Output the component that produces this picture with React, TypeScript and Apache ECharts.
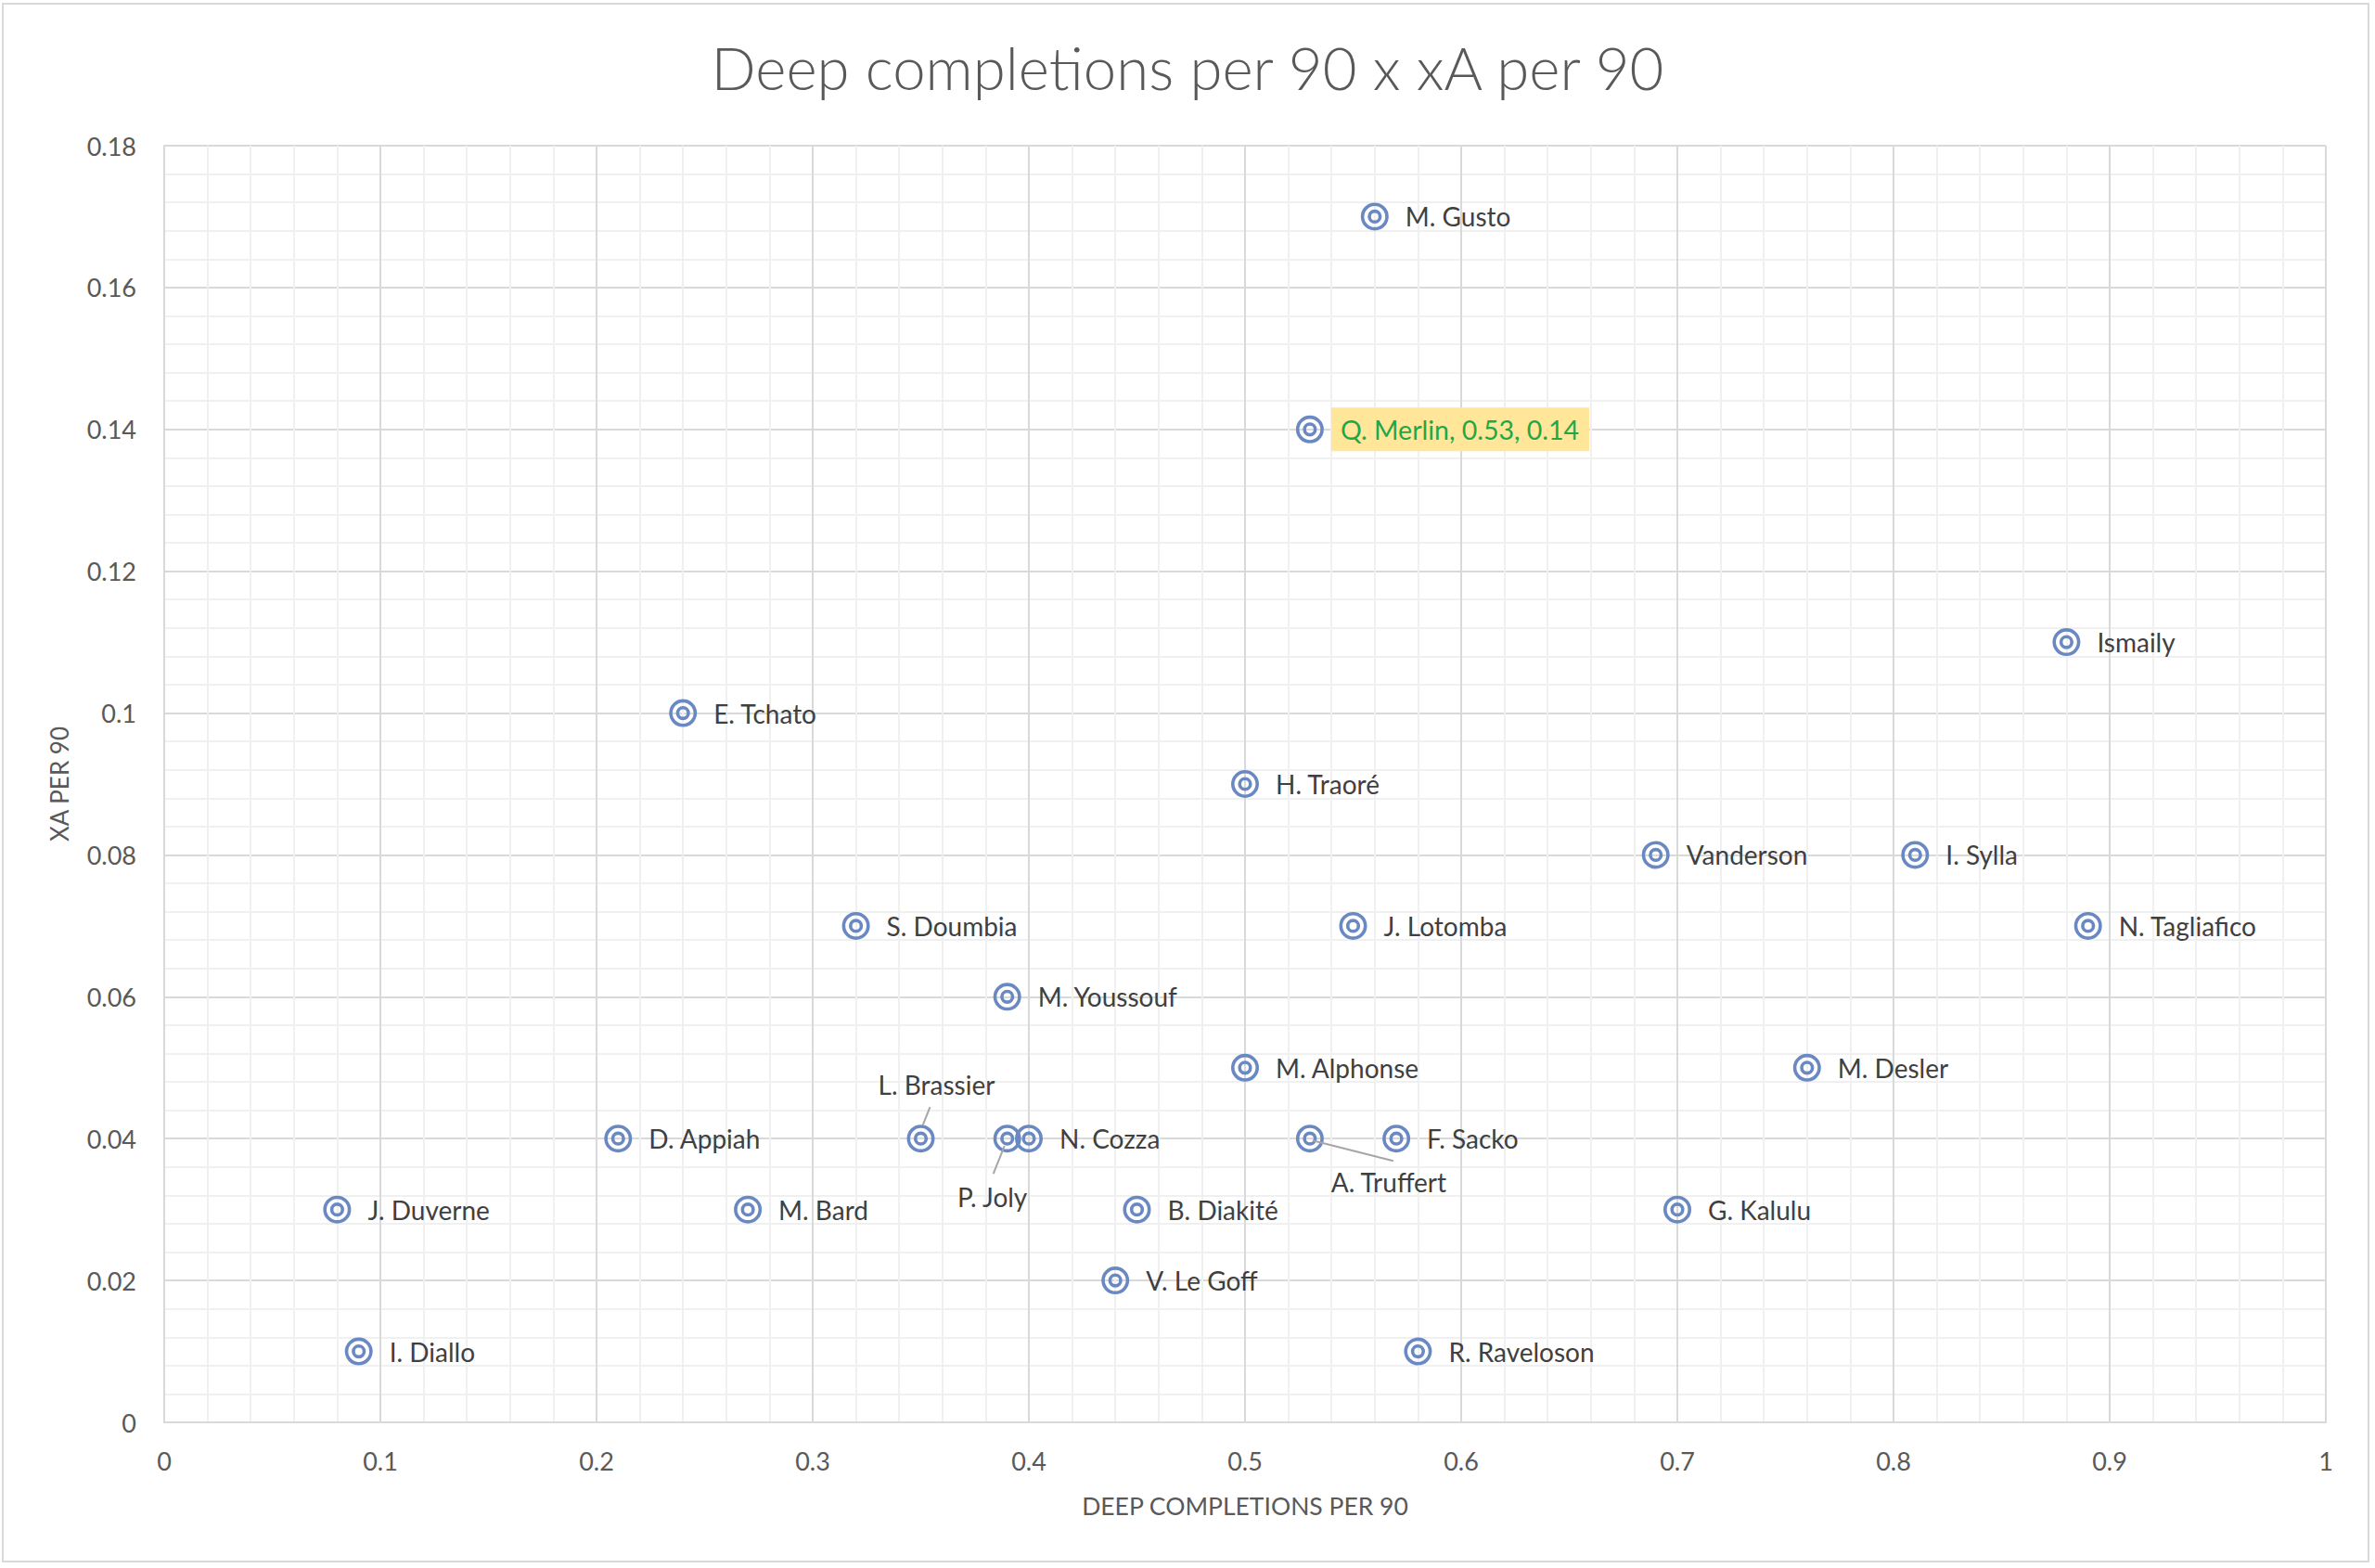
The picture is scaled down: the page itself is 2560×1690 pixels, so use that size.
import React, { useEffect, useRef } from "react";
import * as echarts from "echarts";

const players = [
  "M. Gusto", "Q. Merlin", "Ismaily", "E. Tchato", "H. Traoré", "Vanderson", "I. Sylla",
  "S. Doumbia", "J. Lotomba", "N. Tagliafico", "M. Youssouf", "M. Alphonse", "M. Desler",
  "D. Appiah", "L. Brassier", "P. Joly", "N. Cozza", "A. Truffert", "F. Sacko",
  "J. Duverne", "M. Bard", "B. Diakité", "G. Kalulu", "V. Le Goff", "I. Diallo", "R. Raveloson",
];
const deepCompletions = [
  0.56, 0.53, 0.88, 0.24, 0.5, 0.69, 0.81,
  0.32, 0.55, 0.89, 0.39, 0.5, 0.76,
  0.21, 0.35, 0.39, 0.4, 0.53, 0.57,
  0.08, 0.27, 0.45, 0.7, 0.44, 0.09, 0.58,
];
const xaPer90 = [
  0.17, 0.14, 0.11, 0.1, 0.09, 0.08, 0.08,
  0.07, 0.07, 0.07, 0.06, 0.05, 0.05,
  0.04, 0.04, 0.04, 0.04, 0.04, 0.04,
  0.03, 0.03, 0.03, 0.03, 0.02, 0.01, 0.01,
];
const highlighted = "Q. Merlin";
// labels moved away from their markers: [label dx, label dy, line start dx, dy, line end dx, dy] (pixels)
const movedLabels: Record<string, number[]> = {
  "L. Brassier": [17, -58, 2, -14, 10, -34],
  "P. Joly": [-16, 63, -3, 8, -15, 38],
  "A. Truffert": [85, 47, 3, 2, 90, 24],
};
const movedNames = Object.keys(movedLabels);

const FONT = "Lato, 'Open Sans', sans-serif";
const MARKER =
  "path://M0,15 A15,15 0 1,1 30,15 A15,15 0 1,1 0,15 Z M3.6,15 A11.4,11.4 0 1,0 26.4,15 A11.4,11.4 0 1,0 3.6,15 Z " +
  "M7.4,15 A7.6,7.6 0 1,1 22.6,15 A7.6,7.6 0 1,1 7.4,15 Z M11,15 A4,4 0 1,0 19,15 A4,4 0 1,0 11,15 Z";

export default function App() {
  const ref = useRef<HTMLDivElement>(null);
  useEffect(() => {
    if (!ref.current) return;
    const chart = echarts.init(ref.current, undefined, { renderer: "svg" });
    const data = players.map((name, i) => {
      const item: any = { name, value: [deepCompletions[i], xaPer90[i]] };
      if (name === highlighted) {
        item.label = {
          show: true,
          formatter: `${name}, ${deepCompletions[i]}, ${xaPer90[i]}`,
          color: "#1EA84A",
          fontSize: 28.5,
          backgroundColor: "#FFE699",
          padding: [10, 11, 8, 10],
          distance: 8,
        };
      }
      return item;
    });
    const leaderData = movedNames.map((name) => {
      const i = players.indexOf(name);
      return [deepCompletions[i], xaPer90[i], i];
    });
    chart.setOption({
      animation: false,
      backgroundColor: "#ffffff",
      title: {
        text: "Deep completions per 90 x xA per 90",
        left: "center",
        top: 35,
        textStyle: { fontFamily: FONT, fontSize: 63.5, fontWeight: 300, color: "#595959" },
      },
      graphic: [
        {
          type: "rect",
          shape: { x: 3, y: 4, width: 2550, height: 1679 },
          style: { fill: "none", stroke: "#D9D9D9", lineWidth: 2 },
          silent: true,
        },
      ],
      grid: { left: 177, right: 53, top: 157, bottom: 157, containLabel: false },
      xAxis: {
        type: "value",
        min: 0,
        max: 1,
        interval: 0.1,
        name: "DEEP COMPLETIONS PER 90",
        nameLocation: "middle",
        nameGap: 76,
        nameTextStyle: { fontFamily: FONT, fontSize: 26.5, color: "#595959" },
        axisLine: { show: true, lineStyle: { color: "#D9D9D9", width: 2 } },
        axisTick: { show: false },
        axisLabel: { fontFamily: FONT, fontSize: 27, color: "#595959", margin: 28 },
        splitLine: { show: true, lineStyle: { color: "#D9D9D9", width: 2 } },
        minorTick: { show: false, splitNumber: 5 },
        minorSplitLine: { show: true, lineStyle: { color: "#F0F0F0", width: 2 } },
      },
      yAxis: {
        type: "value",
        min: 0,
        max: 0.18,
        interval: 0.02,
        name: "XA PER 90",
        nameLocation: "middle",
        nameGap: 100,
        nameTextStyle: { fontFamily: FONT, fontSize: 26, color: "#595959" },
        axisLine: { show: true, lineStyle: { color: "#D9D9D9", width: 2 } },
        axisTick: { show: false },
        axisLabel: { fontFamily: FONT, fontSize: 27, color: "#595959", margin: 30 },
        splitLine: { show: true, lineStyle: { color: "#D9D9D9", width: 2 } },
        minorTick: { show: false, splitNumber: 5 },
        minorSplitLine: { show: true, lineStyle: { color: "#F0F0F0", width: 2 } },
      },
      series: [
        {
          type: "scatter",
          symbol: MARKER,
          symbolSize: 30,
          itemStyle: { color: "#6A89C2", opacity: 1 },
          label: {
            show: true,
            position: "right",
            distance: 18,
            formatter: "{b}",
            fontFamily: FONT,
            fontSize: 28,
            color: "#404040",
          },
          labelLayout: (params: any) => {
            const name = players[params.dataIndex];
            const mv = movedLabels[name];
            if (!mv) return {};
            const cx = params.rect.x + params.rect.width / 2;
            const cy = params.rect.y + params.rect.height / 2;
            return { x: cx + mv[0], y: cy + mv[1], align: "center", verticalAlign: "middle" };
          },
          data,
          z: 3,
        },
        {
          type: "custom",
          silent: true,
          z: 4,
          data: leaderData,
          renderItem: (params: any, api: any) => {
            const p = api.coord([api.value(0), api.value(1)]);
            const mv = movedLabels[players[api.value(2)]];
            return {
              type: "line",
              shape: { x1: p[0] + mv[2], y1: p[1] + mv[3], x2: p[0] + mv[4], y2: p[1] + mv[5] },
              style: { stroke: "#A6A6A6", lineWidth: 2 },
            };
          },
        },
      ],
    });
    return () => chart.dispose();
  }, []);
  return (
    <div
      ref={ref}
      style={{ position: "fixed", left: 0, top: 0, width: 2560, height: 1690 }}
    />
  );
}
